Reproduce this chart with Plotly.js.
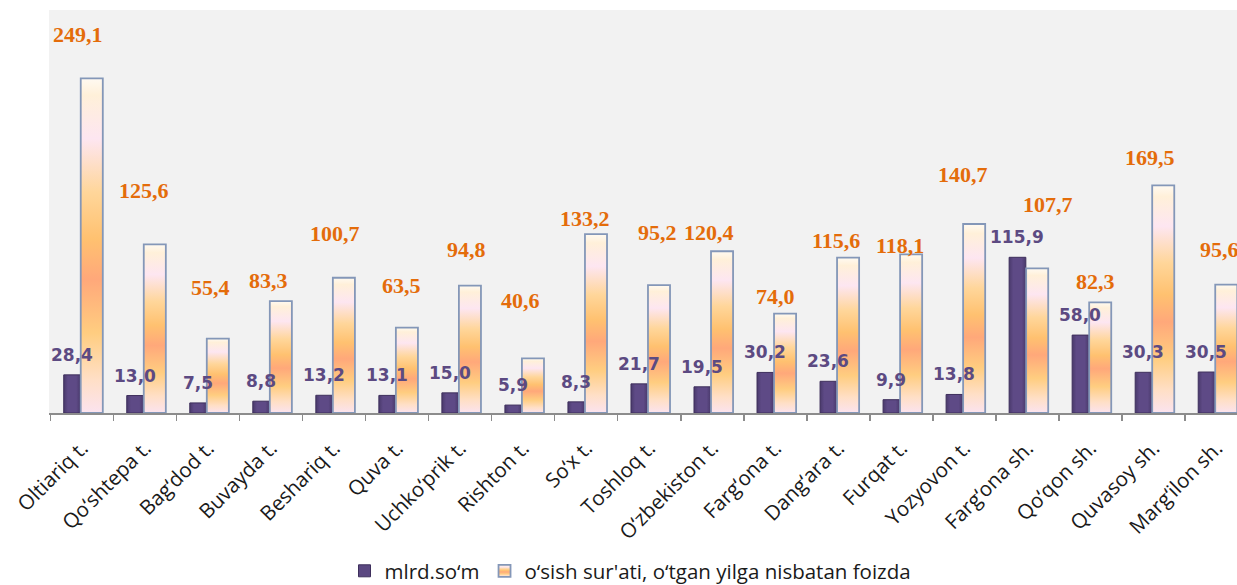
<!DOCTYPE html>
<html>
<head>
<meta charset="utf-8">
<script src="https://cdn.plot.ly/plotly-3.0.1.min.js"></script>
<style>
html,body{margin:0;padding:0;overflow:hidden;background:#fff;}
#chart{width:1250px;height:585px;}
</style>
</head>
<body>
<div id="chart"></div>
<script>
const categories = ["Oltiariq t.","Qo‘shtepa t.","Bag‘dod t.","Buvayda t.","Beshariq t.","Quva t.","Uchko‘prik t.","Rishton t.","So‘x t.","Toshloq t.","O‘zbekiston t.","Farg‘ona t.","Dang‘ara t.","Furqat t.","Yozyovon t.","Farg‘ona sh.","Qo‘qon sh.","Quvasoy sh.","Marg‘ilon sh."];
const mlrdSom = [28.4,13.0,7.5,8.8,13.2,13.1,15.0,5.9,8.3,21.7,19.5,30.2,23.6,9.9,13.8,115.9,58.0,30.3,30.5];
const growthPct = [249.1,125.6,55.4,83.3,100.7,63.5,94.8,40.6,133.2,95.2,120.4,74.0,115.6,118.1,140.7,107.7,82.3,169.5,95.6];
const seriesNames = ["mlrd.so‘m","o‘sish sur'ati, o‘tgan yilga nisbatan foizda"];

// label nudges (pixels) – layout only
const growthLabelLift = [44,54,51,21,44,42,36,58,16,53,19,17,17,9,49,64,21,28,35];
const growthLabelNudge = [-4,-1,2,-3,1,4,6,-3,-1,8,-3,0,-2,-1,-1,21,5,-3,3];

const fmt = v => v.toFixed(1).replace('.', ',');

const traces = [
  {
    type:'bar', name:seriesNames[0], x:categories, y:mlrdSom,
    offset:-0.29, width:0.265,
    marker:{color:'#5b4881', line:{color:'#3e2f5c', width:1}},
    hoverinfo:'skip'
  },
  {
    type:'bar', name:seriesNames[1], x:categories, y:growthPct,
    offset:-0.02, width:0.35,
    marker:{color:'#ffd08a', line:{color:'#8497b8', width:1.8}},
    hoverinfo:'skip'
  }
];

const annotations = [];
categories.forEach((c,i)=>{
  annotations.push({
    x:c, y:mlrdSom[i], xref:'x', yref:'y', text:fmt(mlrdSom[i]), showarrow:false,
    xshift:-10, yshift:20, yanchor:'middle', xanchor:'center',
    font:{family:'DejaVu Sans', size:17, color:'#5c4a82', weight:'bold'}
  });
  annotations.push({
    x:c, y:growthPct[i], xref:'x', yref:'y', text:fmt(growthPct[i]), showarrow:false,
    xshift:growthLabelNudge[i], yshift:growthLabelLift[i], yanchor:'middle', xanchor:'center',
    font:{family:'Liberation Serif', size:22, color:'#e46c0a', weight:'bold'}
  });
});

const layout = {
  width:1250, height:585,
  margin:{l:49, r:2, t:10, b:172, autoexpand:false},
  paper_bgcolor:'#ffffff', plot_bgcolor:'#f2f2f2',
  barmode:'overlay',
  showlegend:true,
  legend:{orientation:'h', x:0.485, xanchor:'center', y:-0.392, yanchor:'middle',
    font:{family:'Open Sans', size:20.5, color:'#1a1a1a'}, itemwidth:30, tracegroupgap:0},
  xaxis:{type:'category', tickangle:-45, tickson:'boundaries', ticks:'outside', ticklen:6,
    tickcolor:'#8c8c8c', tickwidth:1.5, showline:true, linecolor:'#8c8c8c', linewidth:2,
    automargin:false, ticklabelstandoff:13,
    showgrid:false, tickfont:{family:'Open Sans', size:20.5, color:'#1a1a1a'}, fixedrange:true},
  yaxis:{range:[0,300], visible:false, showgrid:false, zeroline:false, fixedrange:true, automargin:false},
  annotations:annotations
};

Plotly.newPlot('chart', traces, layout, {displayModeBar:false, staticPlot:true}).then(gd=>{
  const svg = gd.querySelector('.main-svg');
  const NS = 'http://www.w3.org/2000/svg';
  let defs = svg.querySelector('defs');
  if(!defs){defs=document.createElementNS(NS,'defs'); svg.insertBefore(defs, svg.firstChild);}
  function grad(id, stops, vertical){
    const g=document.createElementNS(NS,'linearGradient');
    g.setAttribute('id',id);
    g.setAttribute('x1','0');g.setAttribute('y1','0');
    g.setAttribute('x2',vertical?'0':'1');g.setAttribute('y2',vertical?'1':'0');
    stops.forEach(s=>{const st=document.createElementNS(NS,'stop');st.setAttribute('offset',s[0]);st.setAttribute('stop-color',s[1]);g.appendChild(st);});
    defs.appendChild(g);
  }
  grad('gGrowth',[[0,'#fffaf2'],[0.05,'#fff0d9'],[0.18,'#fde6f1'],[0.34,'#ffd69a'],[0.48,'#ffc170'],[0.6,'#ffa87a'],[0.76,'#ffcd80'],[0.9,'#ffdfc6'],[1,'#fbe3ef']],true);
  grad('gPurple',[[0,'#4a3a6c'],[0.25,'#5e4a86'],[0.75,'#5e4a86'],[1,'#4a3a6c']],false);
  const barTraces = gd.querySelectorAll('.barlayer .trace');
  if(barTraces[1]) barTraces[1].querySelectorAll('path').forEach(p=>{p.style.fill='url(#gGrowth)';});
  if(barTraces[0]) barTraces[0].querySelectorAll('path').forEach(p=>{p.style.fill='url(#gPurple)';});
  const leg = gd.querySelectorAll('.legend .traces');
  if(leg[1]) leg[1].querySelectorAll('.legendpoints path').forEach(p=>{p.style.fill='url(#gGrowth)';});
});
</script>
</body>
</html>
